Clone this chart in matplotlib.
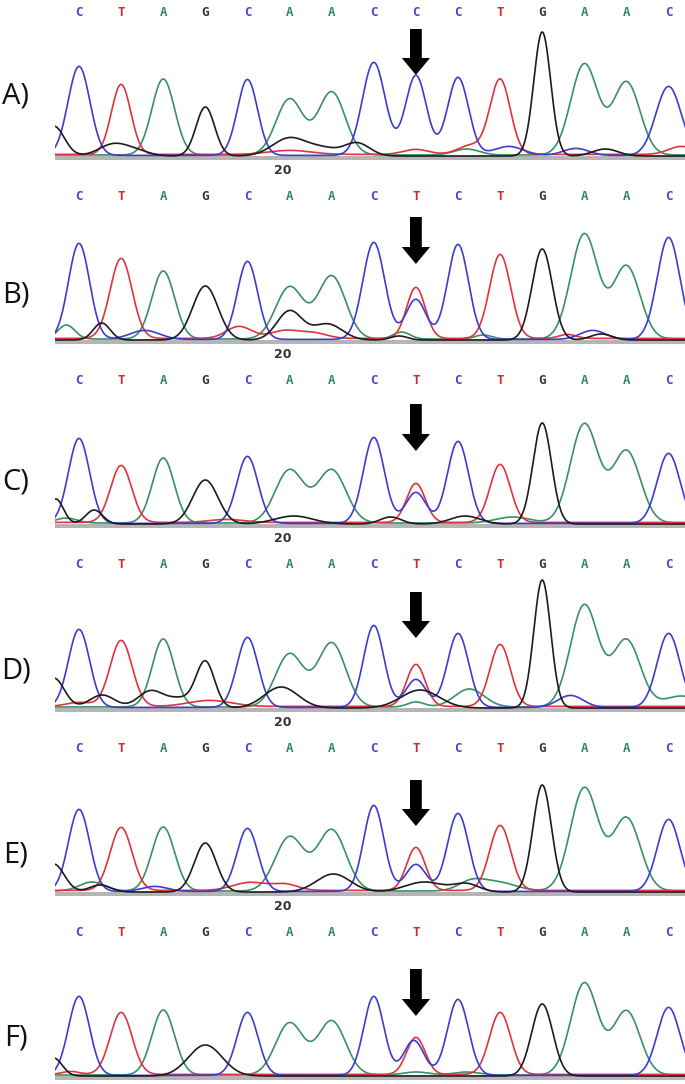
import numpy as np
import matplotlib.pyplot as plt
from matplotlib.patches import FancyArrow

# called sequence of each panel
seq_A = "CTAGCAACCCTGAAC"
seq_mut = "CTAGCAACTCTGAAC"
sequences = [seq_A, seq_mut, seq_mut, seq_mut, seq_mut, seq_mut]
panel_labels = ["A)", "B)", "C)", "D)", "E)", "F)"]

# height of the called peak at each base (px above baseline)
heights_A = [89, 70, 76, 49, 76, 56, 63, 93, 80, 78, 75, 124, 91, 73, 69]
heights_B = [96, 80, 68, 54, 78, 52, 63, 97, 51, 95, 84, 91, 105, 73, 102]
heights_C = [85, 57, 65, 44, 67, 53, 53, 86, 39, 82, 58, 101, 99, 72, 70]
heights_D = [78, 66, 68, 46, 70, 53, 64, 82, 42, 74, 62, 128, 102, 67, 74]
heights_E = [82, 63, 64, 49, 63, 54, 61, 86, 43, 78, 65, 107, 103, 73, 72]
heights_F = [79, 62, 65, 31, 63, 52, 54, 79, 37, 76, 62, 72, 92, 64, 68]

# peak width (sigma, in bases) of the called peaks
widths_A = [0.26, 0.23, 0.27, 0.22, 0.24, 0.32, 0.32, 0.27, 0.25, 0.25, 0.24, 0.20, 0.32, 0.32, 0.30]
widths_B = [0.25, 0.26, 0.27, 0.30, 0.24, 0.33, 0.33, 0.26, 0.22, 0.25, 0.25, 0.24, 0.32, 0.32, 0.27]
widths_C = [0.25, 0.25, 0.26, 0.30, 0.25, 0.34, 0.34, 0.25, 0.22, 0.25, 0.24, 0.22, 0.33, 0.33, 0.27]
widths_D = [0.25, 0.26, 0.26, 0.22, 0.25, 0.33, 0.33, 0.24, 0.22, 0.25, 0.24, 0.20, 0.33, 0.33, 0.27]
widths_E = [0.25, 0.26, 0.27, 0.26, 0.25, 0.34, 0.34, 0.24, 0.22, 0.25, 0.25, 0.22, 0.33, 0.33, 0.27]
widths_F = [0.25, 0.26, 0.27, 0.40, 0.25, 0.33, 0.33, 0.24, 0.22, 0.25, 0.25, 0.25, 0.32, 0.32, 0.27]

# secondary / background peaks: (channel, position, height, sigma)
extra_A = [("G", -0.6, 30, 0.25), ("G", 0.83, 12, 0.35), ("G", 1.4, 4, 0.3),
           ("G", 5.0, 18, 0.4), ("G", 5.8, 7, 0.35), ("G", 6.6, 13, 0.3),
           ("T", 5.0, 4, 0.5), ("T", 8.0, 5, 0.3), ("T", 9.3, 9, 0.3), ("T", 14.3, 8, 0.3),
           ("C", 10.2, 9, 0.35), ("C", 11.8, 7, 0.3), ("G", 12.5, 7, 0.3), ("A", 9.2, 6, 0.3)]
extra_B = [("C", 8.0, 40, 0.24), ("A", -0.3, 14, 0.2), ("G", 0.54, 17, 0.2),
           ("C", 1.56, 9, 0.35), ("T", 3.8, 12, 0.3), ("T", 4.9, 8, 0.35), ("T", 5.6, 5, 0.3),
           ("G", 5.0, 29, 0.3), ("G", 5.9, 16, 0.35), ("A", 7.66, 7, 0.2), ("G", 7.6, 4, 0.2),
           ("C", 12.2, 9, 0.3), ("G", 12.4, 6, 0.25), ("T", 11.6, 4, 0.2), ("A", 9.6, 4, 0.2)]
extra_C = [("C", 8.0, 31, 0.24), ("G", 0.36, 14, 0.2), ("G", -0.55, 25, 0.18),
           ("A", -0.3, 5, 0.25), ("G", 5.1, 8, 0.45), ("G", 7.4, 7, 0.25),
           ("G", 9.17, 8, 0.35), ("A", 10.3, 6, 0.4), ("T", 3.5, 3, 0.4)]
extra_D = [("C", 8.0, 28, 0.24), ("G", -0.6, 30, 0.25), ("G", 0.55, 13, 0.3),
           ("G", 1.7, 17, 0.3), ("G", 2.4, 9, 0.3), ("G", 4.8, 21, 0.4),
           ("G", 8.1, 18, 0.45), ("A", 9.27, 18, 0.35), ("A", 8.0, 5, 0.2),
           ("C", 11.67, 12, 0.3), ("A", 14.3, 11, 0.4), ("T", 3.1, 6, 0.5), ("T", 0.0, 4, 0.3)]
extra_E = [("C", 8.0, 27, 0.24), ("G", -0.6, 28, 0.25), ("A", 0.31, 9, 0.3),
           ("G", 0.5, 7, 0.25), ("T", 4.06, 8, 0.4), ("T", 4.9, 6, 0.3),
           ("G", 6.04, 18, 0.4), ("G", 8.2, 10, 0.45), ("G", 9.2, 8, 0.3),
           ("A", 9.9, 9, 0.45), ("A", 9.3, 8, 0.3), ("C", 1.8, 5, 0.3)]
extra_F = [("C", 7.95, 35, 0.24), ("G", -0.6, 18, 0.2), ("A", 8.0, 3, 0.3),
           ("A", 9.2, 3, 0.3), ("T", -0.2, 3, 0.2)]

heights = [heights_A, heights_B, heights_C, heights_D, heights_E, heights_F]
widths = [widths_A, widths_B, widths_C, widths_D, widths_E, widths_F]
extras = [extra_A, extra_B, extra_C, extra_D, extra_E, extra_F]

# arrow top and tip (px above baseline), arrow sits on base 8
arrow_top = [127, 123, 120, 116, 112, 107]
arrow_tip = [81, 76, 73, 70, 66, 60]
label_y = [60, 45, 42, 37, 37, 38]
baselines_px = [156, 340, 524, 708, 892, 1076]

colors = {"C": "#3c3cd0", "T": "#e0343c", "A": "#3a8f68", "G": "#1c1c1c"}
letter_colors = {"C": "#4646c8", "T": "#d8262c", "A": "#2e8a58", "G": "#333333"}
offsets = {"C": 0.6, "T": 1.6, "A": 1.0, "G": 0.0}

W, H = 685, 1084
fig = plt.figure(figsize=(W / 100, H / 100), dpi=100)
x = np.linspace(-0.6, 14.45, 2000)


def peak(pos, h, s):
    return h * np.exp(-(x - pos) ** 2 / (2 * s ** 2))


for k in range(6):
    b = baselines_px[k]
    ax = fig.add_axes([55 / W, 1 - (b + 20) / H, 630 / W, 170 / H])
    ax.set_xlim(-0.57, 14.39)
    ax.set_ylim(-20, 150)
    ax.axis("off")

    traces = {c: np.full_like(x, offsets[c]) for c in "ACGT"}
    for i, base in enumerate(sequences[k]):
        traces[base] += peak(i, heights[k][i], widths[k][i])
    for ch, pos, h, s in extras[k]:
        traces[ch] += peak(pos, h, s)

    ax.axhspan(-4, 0, color="#b5b5b5", lw=0)
    for ch in ["A", "T", "C", "G"]:
        ax.plot(x, traces[ch], color=colors[ch], lw=1.2)

    for i, base in enumerate(sequences[k]):
        ax.text(i, 144, base, ha="center", va="center", fontsize=9,
                fontweight="bold", family="DejaVu Sans Mono", color=letter_colors[base])

    ax.add_patch(FancyArrow(8, arrow_top[k], 0, arrow_tip[k] - arrow_top[k],
                            width=0.28, head_width=0.67, head_length=17,
                            length_includes_head=True, color="black", lw=0))

    ax.text(-1.5, label_y[k], panel_labels[k], ha="center", va="center",
            fontsize=21, family="Open Sans", color="#111111", clip_on=False)

    if k < 5:
        ax.text(4.85, -15, "20", ha="center", va="center", fontsize=9,
                fontweight="bold", color="#333333")

fig.savefig("out.png", dpi=100)
